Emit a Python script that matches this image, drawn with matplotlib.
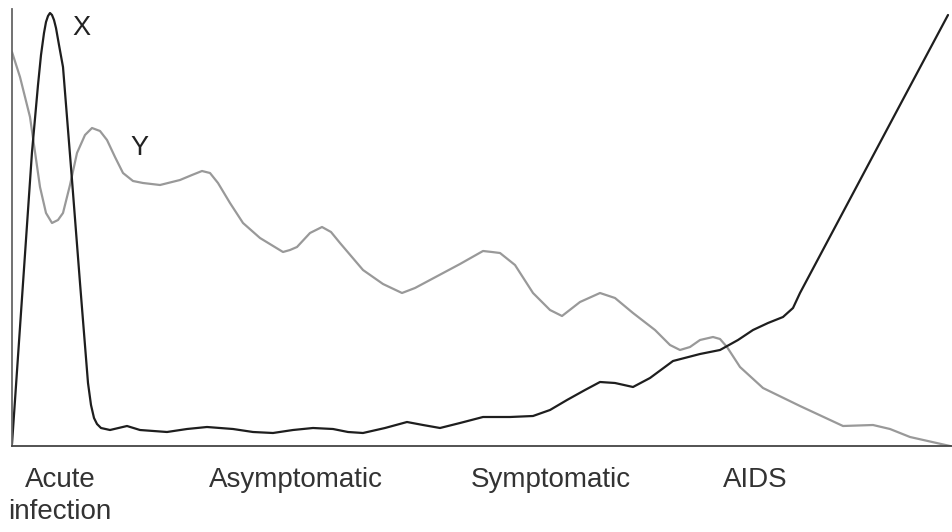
import matplotlib.pyplot as plt

plt.rcParams['font.family'] = ['Liberation Sans', 'DejaVu Sans']

# curve X (black): position along the course, height above baseline (pixel units)
x_pos = [12, 22, 32, 38, 41, 44, 46, 48, 50, 52, 54, 56, 59, 63, 72, 80, 84, 88, 91, 94, 97, 101, 110, 127,
         140, 167, 187, 207, 233, 253, 273, 293, 313, 333, 348, 363, 385, 407, 423, 440, 460, 483, 510,
         533, 550, 567, 585, 600, 615, 633, 650, 673, 700, 720, 738, 753, 768, 783, 793, 800, 850, 900, 948]
x_top = [444, 298, 152, 85, 55, 33, 22, 16, 13, 15, 20, 28, 45, 67, 180, 283, 333, 383, 405, 418, 424, 428, 430, 426,
         430, 432, 429, 427, 429, 432, 433, 430, 428, 429, 432, 433, 428, 422, 425, 428, 423, 417, 417,
         416, 410, 400, 390, 382, 383, 387, 378, 361, 354, 350, 340, 330, 323, 317, 308, 293, 199, 105, 15]

# curve Y (grey)
y_pos = [12, 20, 30, 40, 46, 52, 58, 63, 70, 77, 85, 92, 100, 107, 115, 123, 133, 143, 160, 180,
         192, 202, 210, 218, 230, 243, 260, 283, 290, 297, 310, 322, 331, 340, 363, 383, 402, 415, 430,
         460, 483, 492, 500, 515, 533, 550, 562, 580, 600, 615, 633, 655, 670, 680, 690, 700, 713, 720,
         727, 740, 763, 800, 843, 873, 890, 910, 950]
y_top = [52, 77, 117, 187, 213, 223, 220, 213, 185, 153, 135, 128, 131, 140, 157, 173, 181, 183, 185, 180,
         175, 171, 173, 183, 203, 223, 238, 252, 250, 247, 233, 227, 232, 243, 270, 284, 293, 288, 280,
         264, 251, 252, 253, 265, 293, 310, 316, 302, 293, 298, 313, 330, 345, 350, 347, 340, 337, 339,
         347, 367, 388, 406, 426, 425, 429, 437, 446]

stages = ['Acute\ninfection', 'Asymptomatic', 'Symptomatic', 'AIDS']
stage_pos = [60, 296, 551, 755]

base = 446
x_vals = [base - v for v in x_top]
y_vals = [base - v for v in y_top]

fig = plt.figure(figsize=(9.52, 5.32), dpi=100)
ax = fig.add_axes([12 / 952, 1 - 446 / 532, 940 / 952, 437 / 532])

ax.plot(y_pos, y_vals, color='#999999', lw=1.6, solid_joinstyle='round', solid_capstyle='round')
ax.plot(x_pos, x_vals, color='#1e1e1e', lw=1.6, solid_joinstyle='round', solid_capstyle='round')

ax.text(81, base - 28, 'X', fontsize=19.5, ha='center', va='center', color='#222222')
ax.text(139, base - 148, 'Y', fontsize=19.5, ha='center', va='center', color='#222222')

ax.set_xlim(12, 952)
ax.set_ylim(0, 437)
ax.set_yticks([])
ax.set_xticks(stage_pos)
ax.set_xticklabels(stages, fontsize=20, color='#333333', linespacing=1.3)
ax.tick_params(axis='x', length=0, pad=15)

for s in ['top', 'right']:
    ax.spines[s].set_visible(False)
ax.spines['left'].set_color('#666666')
ax.spines['bottom'].set_color('#444444')
ax.spines['left'].set_linewidth(1.3)
ax.spines['bottom'].set_linewidth(1.3)

fig.savefig('out.png', dpi=100)
